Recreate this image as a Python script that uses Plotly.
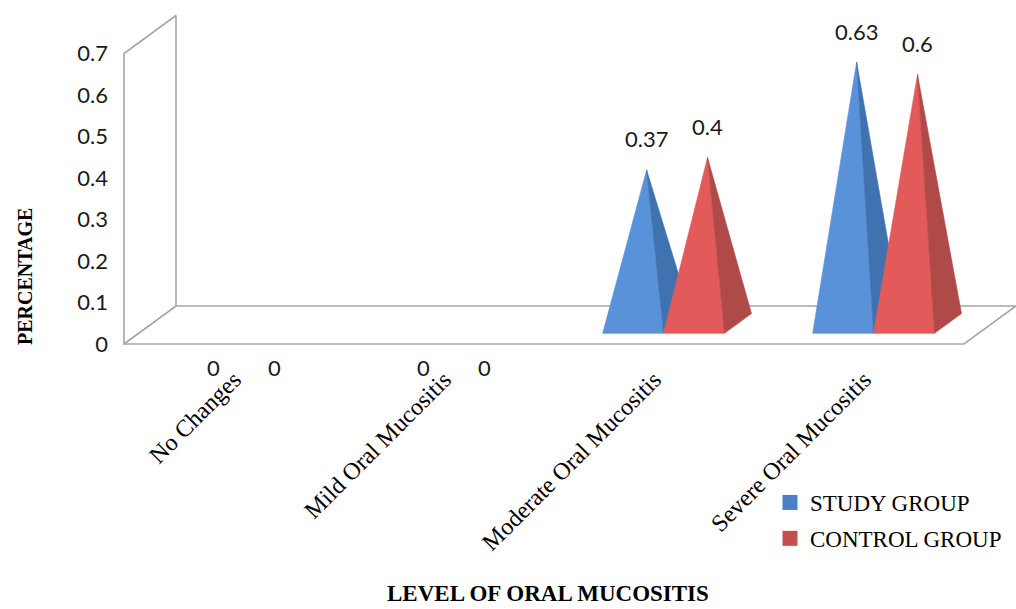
import plotly.graph_objects as go

# ---- data -------------------------------------------------------------
categories = ["No Changes", "Mild Oral Mucositis",
              "Moderate Oral Mucositis", "Severe Oral Mucositis"]
study_group = [0, 0, 0.37, 0.63]
control_group = [0, 0, 0.40, 0.60]
y_ticks = [0, 0.1, 0.2, 0.3, 0.4, 0.5, 0.6, 0.7]

# ---- oblique 3-D projection settings ----------------------------------
PX_PER_CAT = 210.0          # pixels per category step
PX_PER_VAL = 415.0          # pixels per value unit
DEPTH_DX = 52.0 / PX_PER_CAT    # floor depth, horizontal (category units)
DEPTH_DY = 38.0 / PX_PER_VAL    # floor depth, vertical (value units)
BAR_W = 0.29                # pyramid base width (category units)
D_FRONT, D_BACK = 0.28, 0.80    # pyramid base depth span
D_MID = 0.5 * (D_FRONT + D_BACK)
Y_MAX = 0.7

W, H = 1016, 609
X0_PX, Y0_PX = 229.0, 344.0     # pixel of (category 0, value 0) on the front plane


def proj(x, d, v):
    """Project (category x, depth d in [0,1], value v) to 2-D axis coords."""
    return x + DEPTH_DX * d, v + DEPTH_DY * d


WALL = "#A6A6A6"
BLUE_FRONT, BLUE_SIDE = "#5A92DA", "#3F72AE"
RED_FRONT, RED_SIDE = "#E25B5A", "#B04A48"
BLUE_KEY, RED_KEY = "#4A80C8", "#C64F4D"

fig = go.Figure()


def add_poly(pts, color):
    xs = [p[0] for p in pts] + [pts[0][0]]
    ys = [p[1] for p in pts] + [pts[0][1]]
    fig.add_trace(go.Scatter(x=xs, y=ys, mode="lines", fill="toself",
                             fillcolor=color, line=dict(color=color, width=0.6),
                             hoverinfo="skip", showlegend=False))


def add_line(pts):
    fig.add_trace(go.Scatter(x=[p[0] for p in pts], y=[p[1] for p in pts],
                             mode="lines", line=dict(color=WALL, width=1.6),
                             hoverinfo="skip", showlegend=False))


# ---- walls and floor --------------------------------------------------
xl, xr = -0.5, len(categories) - 0.5
add_line([proj(xl, 0, Y_MAX), proj(xl, 0, 0), proj(xr, 0, 0),
          proj(xr, 1, 0), proj(xl, 1, 0), proj(xl, 1, Y_MAX), proj(xl, 0, Y_MAX)])
add_line([proj(xl, 0, 0), proj(xl, 1, 0)])

# ---- pyramids ---------------------------------------------------------
annotations = []
series = [(study_group, -BAR_W, BLUE_FRONT, BLUE_SIDE),
          (control_group, 0.0, RED_FRONT, RED_SIDE)]
for i in range(len(categories)):
    for values, off, c_front, c_side in series:
        v = values[i]
        x0 = i + off
        x1 = x0 + BAR_W
        xc = 0.5 * (x0 + x1)
        apex = proj(xc, D_MID, v)
        if v > 0:
            add_poly([proj(x0, D_FRONT, 0), proj(x1, D_FRONT, 0), apex], c_front)
            add_poly([proj(x1, D_FRONT, 0), proj(x1, D_BACK, 0), apex], c_side)
            lx, ly = apex
            shift = 31
        else:
            lx, ly = proj(xc, D_FRONT, 0)
            shift = -34
        annotations.append(dict(x=lx, y=ly, text=f"{v:g}", showarrow=False,
                                yshift=shift, xref="x", yref="y",
                                xanchor="center", yanchor="middle",
                                font=dict(family="Lato", size=22, color="#1a1a1a")))

# ---- legend keys ------------------------------------------------------
for name, col, grp in [("STUDY GROUP", BLUE_KEY, "a"), ("CONTROL GROUP", RED_KEY, "b")]:
    fig.add_trace(go.Scatter(x=[None], y=[None], mode="markers", name=name,
                             legendgroup=grp,
                             marker=dict(symbol="square", size=15, color=col)))

# ---- axis titles ------------------------------------------------------
annotations.append(dict(x=548 / W, y=1 - 593 / H, xref="paper", yref="paper",
                        xanchor="center", yanchor="middle",
                        text="<b>LEVEL OF ORAL MUCOSITIS</b>", showarrow=False,
                        font=dict(family="Liberation Serif", size=23, color="black")))
annotations.append(dict(x=25 / W, y=1 - 277 / H, xref="paper", yref="paper",
                        xanchor="center", yanchor="middle",
                        text="<b>PERCENTAGE</b>", textangle=-90, showarrow=False,
                        font=dict(family="Liberation Serif", size=20, color="black")))

x_range = [-X0_PX / PX_PER_CAT, (W - X0_PX) / PX_PER_CAT]
y_range = [(Y0_PX - H) / PX_PER_VAL, Y0_PX / PX_PER_VAL]

fig.update_layout(
    width=W, height=H,
    margin=dict(l=0, r=0, t=0, b=0),
    paper_bgcolor="white", plot_bgcolor="white",
    showlegend=True,
    legend=dict(x=770 / W, y=1 - 481 / H, xanchor="left", yanchor="top",
                traceorder="grouped", tracegroupgap=3,
                font=dict(family="Liberation Serif", size=23, color="black"),
                bgcolor="rgba(0,0,0,0)"),
    annotations=annotations,
    xaxis=dict(range=x_range, showgrid=False, zeroline=False, showline=False,
               anchor="free", position=1 - Y0_PX / H,
               tickmode="array", tickvals=list(range(len(categories))),
               ticktext=categories, tickangle=-45, ticks="",
               ticklabelstandoff=16, ticklabelshift=5,
               tickfont=dict(family="Liberation Serif", size=24, color="black"),
               fixedrange=True),
    yaxis=dict(range=y_range, showgrid=False, zeroline=False, showline=False,
               anchor="free", position=(X0_PX - 0.5 * PX_PER_CAT) / W,
               tickmode="array", tickvals=y_ticks, ticks="",
               ticktext=[f"{t:g}" for t in y_ticks], ticklabelstandoff=16,
               tickfont=dict(family="Lato", size=22, color="#1a1a1a"),
               fixedrange=True),
)

fig.write_html("out.html")
